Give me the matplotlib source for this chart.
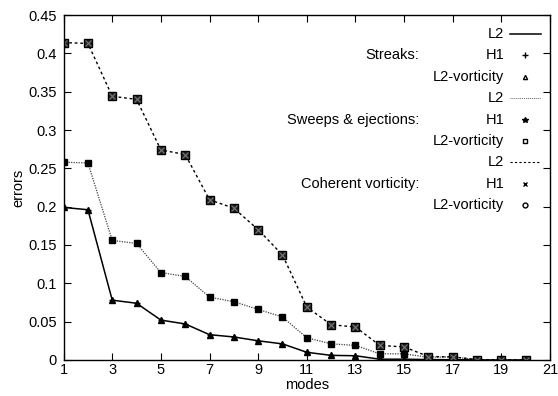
import numpy as np
import matplotlib.pyplot as plt
from matplotlib.lines import Line2D

plt.rcParams['font.family'] = ['Liberation Sans', 'DejaVu Sans']
plt.rcParams['font.size'] = 8.5

modes = np.arange(1, 21)

# error curves, one per structure type
streaks = [0.199, 0.196, 0.078, 0.074, 0.052, 0.047, 0.033, 0.030, 0.025, 0.021,
           0.010, 0.006, 0.0055, 0.001, 0.001, 0.0005, 0.0003, 0.0002, 0.0001, 0.0]
sweeps = [0.258, 0.257, 0.156, 0.152, 0.114, 0.109, 0.082, 0.076, 0.066, 0.056,
          0.029, 0.021, 0.019, 0.008, 0.008, 0.0035, 0.004, 0.0004, 0.0002, 0.0]
coherent = [0.414, 0.413, 0.344, 0.340, 0.274, 0.268, 0.209, 0.198, 0.170, 0.137,
            0.069, 0.046, 0.043, 0.019, 0.017, 0.0045, 0.004, 0.0005, 0.0002, 0.0]

group_names = ['Streaks:', 'Sweeps & ejections:', 'Coherent vorticity:']
row_labels = ['L2', 'H1', 'L2-vorticity']
x_ticks = np.arange(1, 22, 2)
y_ticks = np.arange(0, 0.451, 0.05)

fig = plt.figure(figsize=(5.58, 3.96), dpi=100)
ax = fig.add_axes([0.114, 0.091, 0.8717, 0.871])

# streaks: solid line, triangles and pluses
ax.plot(modes, streaks, color='black', lw=1.1, ls='-')
ax.plot(modes, streaks, ls='none', marker='^', ms=4, color='black')
ax.plot(modes, streaks, ls='none', marker='+', ms=5, color='black', mew=1)

# sweeps & ejections: fine dotted line, filled squares
ax.plot(modes, sweeps, color='#444444', lw=0.9, ls=(0, (1, 1)))
ax.plot(modes, sweeps, ls='none', marker='s', ms=5, color='black')
ax.plot(modes, sweeps, ls='none', marker='*', ms=5, color='black')

# coherent vorticity: dashed line, boxed crosses
ax.plot(modes, coherent, color='black', lw=1.0, ls=(0, (2, 2)))
ax.plot(modes, coherent, ls='none', marker='s', ms=5.5, mfc='#222222', mec='black')
ax.plot(modes, coherent, ls='none', marker='x', ms=4, color='#777777', mew=0.8)

ax.set_xlim(1, 21)
ax.set_ylim(0, 0.45)
ax.set_xticks(x_ticks)
ax.set_yticks(y_ticks)
ax.set_yticklabels(['0'] + ['%g' % v for v in y_ticks[1:]])
ax.tick_params(direction='in', top=True, right=True, length=5, width=0.8,
               labelsize=10.5)
ax.tick_params(axis='x', pad=2)
ax.tick_params(axis='y', pad=5)
for s in ax.spines.values():
    s.set_linewidth(1.0)

ax.set_xlabel('modes', fontsize=10.5, labelpad=1)
ax.set_ylabel('errors', fontsize=10.5, labelpad=2)

# key in the top-right corner, gnuplot style
samples = [
    [dict(ls='-', lw=1.1, color='black'),
     dict(ls='none', marker='+', ms=4, color='black'),
     dict(ls='none', marker='^', ms=3, mfc='white', mec='black')],
    [dict(ls=(0, (1, 1)), lw=0.7, color='#666666'),
     dict(ls='none', marker='*', ms=4, color='black'),
     dict(ls='none', marker='s', ms=3.5, mfc='white', mec='black')],
    [dict(ls=(0, (2, 2)), lw=0.8, color='black'),
     dict(ls='none', marker='x', ms=3.5, color='black'),
     dict(ls='none', marker='o', ms=3.5, mfc='white', mec='black')],
]

def px_to_ax(x, y):
    # pixel coordinates of the figure to axes fraction
    x0, x1, y0, y1 = 63.7, 550.0, 360.0, 15.0
    return (x - x0) / (x1 - x0), (y0 - y) / (y0 - y1)

fs = 10.5
for g, name in enumerate(group_names):
    for r, lab in enumerate(row_labels):
        ypix = 34 + (g * 3 + r) * 21.4
        tx, ty = px_to_ax(504, ypix)
        ax.text(tx, ty, lab, transform=ax.transAxes, ha='right', va='center', fontsize=fs)
        style = samples[g][r]
        if r == 0:
            lx0, _ = px_to_ax(510, ypix)
            lx1, _ = px_to_ax(541, ypix)
            ax.add_line(Line2D([lx0, lx1], [ty, ty], transform=ax.transAxes, **style))
        else:
            mx, _ = px_to_ax(525, ypix)
            ax.add_line(Line2D([mx], [ty], transform=ax.transAxes, **style))
        if r == 1:
            gx, _ = px_to_ax(419, ypix)
            ax.text(gx, ty, name, transform=ax.transAxes, ha='right', va='center', fontsize=fs)

fig.savefig('out.png', dpi=100)
